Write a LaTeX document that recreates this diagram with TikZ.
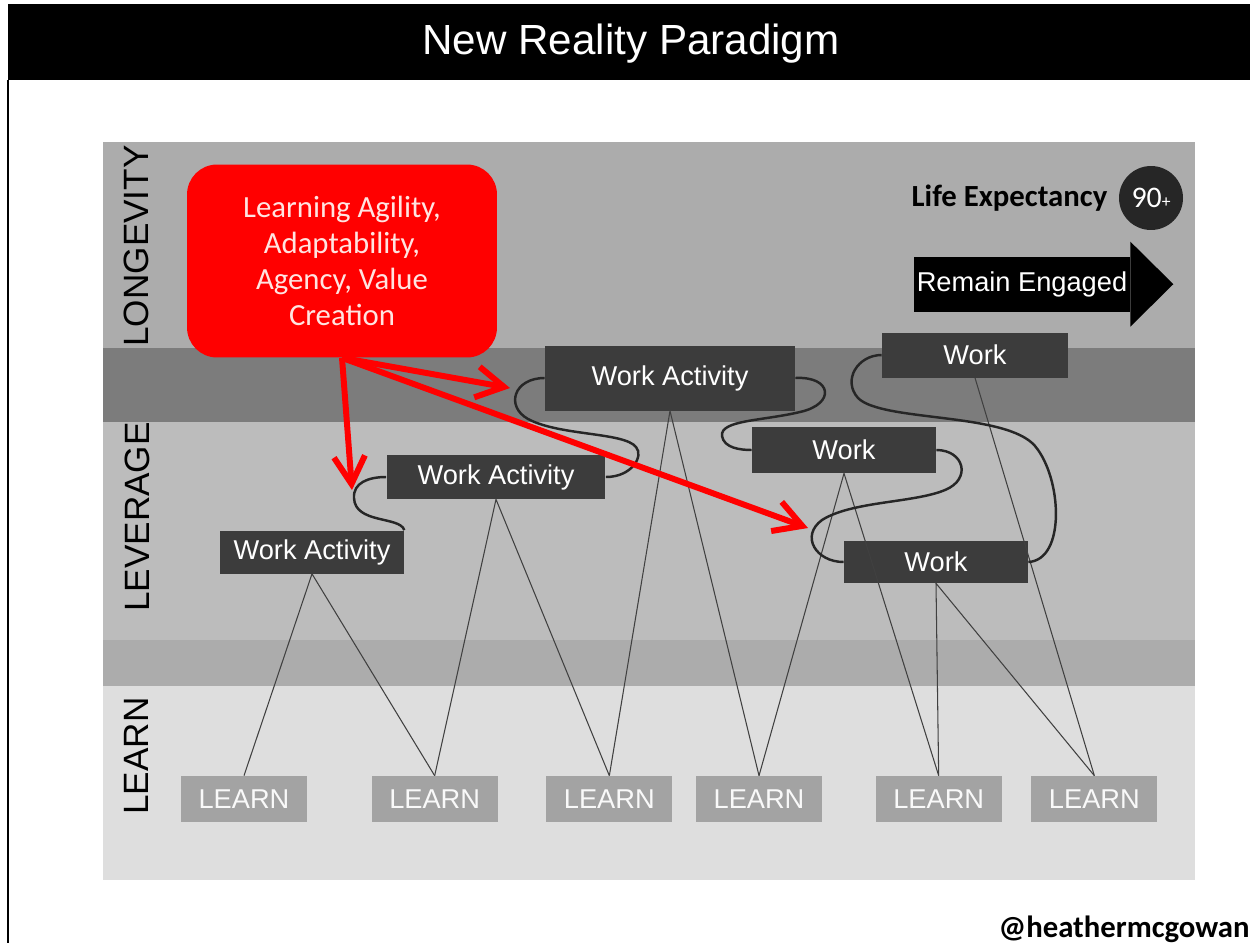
\documentclass[tikz,border=0pt]{standalone}
\usepackage{fontspec}
\setmainfont{Liberation Sans}
\newfontfamily\calibri{Carlito}
\usepackage{tikz}
\usetikzlibrary{arrows.meta,positioning}
\definecolor{nrred}{RGB}{255,0,0}
\definecolor{nrpink}{RGB}{255,228,225}
\definecolor{bandtop}{RGB}{172,172,172}
\definecolor{banddark}{RGB}{124,124,124}
\definecolor{bandmid}{RGB}{188,188,188}
\definecolor{bandlow}{RGB}{172,172,172}
\definecolor{bandlearn}{RGB}{222,222,222}
\definecolor{workfill}{RGB}{60,60,60}
\definecolor{learnfill}{RGB}{163,163,163}
\definecolor{agefill}{RGB}{38,38,38}

\begin{document}
\begin{tikzpicture}[
  x=0.02cm, y=-0.02cm,
  band/.style={rotate=90, inner sep=0pt, font=\fontsize{20}{24}\selectfont},
  work/.style={fill=workfill, text=white, inner sep=0pt, font=\fontsize{15.5}{18}\selectfont},
  learn/.style={fill=learnfill, text=white!95!gray, inner sep=0pt, minimum width=2.52cm, minimum height=0.92cm, font=\fontsize{15.5}{18}\selectfont},
  tie/.style={draw=black!75, line width=0.6pt},
  wire/.style={draw=black!85, line width=1.4pt},
  push/.style={draw=nrred, line width=3.4pt, -{Straight Barb[length=0.55cm, width=0.62cm]}}
]
\useasboundingbox (0,0) rectangle (1250,943);
\fill[white] (0,0) rectangle (1250,943);
\fill[black] (8,4) rectangle (1250,80);
\draw[line width=1.7pt] (8,80) -- (8,943);
\node[text=white, font=\fontsize{24}{28}\selectfont] (title) at (631,44) {New Reality Paradigm};

\fill[bandtop] (103,142) rectangle (1195,348);
\fill[banddark] (103,348) rectangle (1195,422);
\fill[bandmid] (103,422) rectangle (1195,640);
\fill[bandlow] (103,640) rectangle (1195,686);
\fill[bandlearn] (103,686) rectangle (1195,880);
\node[band] (longevity) at (136,246) {LONGEVITY};
\node[band] (leverage) at (137,517) {LEVERAGE};
\node[band] (learning) at (136,756) {LEARN};

\node[circle, fill=agefill, text=white, inner sep=0pt, minimum size=1.28cm, font=\calibri\fontsize{17}{20}\selectfont] (age) at (1151,198) {90{\fontsize{10}{12}\selectfont+}};
\node[left=0.22cm of age, inner sep=0pt, font=\calibri\bfseries\fontsize{17.5}{20}\selectfont] (life) {Life Expectancy};
\node[fill=black, text=white, inner sep=0pt, minimum width=4.32cm, minimum height=1.1cm, font=\fontsize{15.5}{18}\selectfont] (engaged) at (1022,284.5) {Remain Engaged};
\fill[black] (engaged.north east) ++(0,-15) -- ++(43,42.5) -- ++(-43,42.5) -- cycle;

\node[work, minimum width=3.68cm, minimum height=0.86cm] (wa1) at (312,552) {Work Activity};
\node[work, minimum width=4.38cm, minimum height=0.88cm] (wa2) at (496,477) {Work Activity};
\node[work, minimum width=5cm, minimum height=1.3cm] (wa3) at (670,378) {Work Activity};
\node[work, minimum width=3.68cm, minimum height=0.92cm] (w4) at (844,450) {Work};
\node[work, minimum width=3.68cm, minimum height=0.84cm] (w5) at (936,562) {Work};
\node[work, minimum width=3.72cm, minimum height=0.9cm] (w6) at (975,355) {Work};

\node[learn] (l1) at (244,799) {LEARN};
\node[learn, right=1.28cm of l1] (l2) {LEARN};
\node[learn, right=0.96cm of l2] (l3) {LEARN};
\node[learn, right=0.46cm of l3] (l4) {LEARN};
\node[learn, right=1.06cm of l4] (l5) {LEARN};
\node[learn, right=0.58cm of l5] (l6) {LEARN};

\draw[tie] (l1.north) -- (wa1.south) -- (l2.north);
\draw[tie] (l2.north) -- (wa2.south) -- (l3.north);
\draw[tie] (l3.north) -- (wa3.south) -- (l4.north);
\draw[tie] (l4.north) -- (w4.south) -- (l5.north);
\draw[tie] (l5.north) -- (w5.south) -- (l6.north);
\draw[tie] (w6.south) -- (l6.north);

\draw[wire] (wa1.north east) .. controls (400,516) and (355,524) .. (354,498)
  .. controls (353,483) and (368,477) .. (wa2.west);
\draw[wire] (wa2.east) .. controls (632,477) and (644,456) .. (636,447)
  .. controls (624,432) and (560,436) .. (528,419)
  .. controls (505,406) and (514,378) .. (wa3.west);
\draw[wire] (wa3.east) .. controls (832,376) and (836,404) .. (800,412)
  .. controls (762,421) and (720,420) .. (722,436)
  .. controls (724,448) and (740,450) .. (w4.west);
\draw[wire] (w4.east) .. controls (964,450) and (972,479) .. (945,490)
  .. controls (914,503) and (852,501) .. (822,520)
  .. controls (800,536) and (816,562) .. (w5.west);
\draw[wire] (w5.east) .. controls (1066,560) and (1062,478) .. (1035,446)
  .. controls (1006,412) and (882,422) .. (858,398)
  .. controls (842,380) and (858,355) .. (w6.west);

\node[fill=nrred, text=nrpink, rounded corners=0.6cm, align=center, minimum width=6.2cm, minimum height=3.86cm, font=\calibri\fontsize{17.5}{20.5}\selectfont] (traits) at (342,261) {Learning Agility,\\Adaptability,\\Agency, Value\\Creation};
\coordinate (aim1) at (352,490);
\coordinate (aim2) at (510,388);
\coordinate (aim3) at (808,528);
\draw[push] (traits.south) -- (aim1);
\draw[push] (traits.south) -- (aim2);
\draw[push] (traits.south) -- (aim3);

\node[anchor=base east, inner sep=0pt, font=\calibri\bfseries\fontsize{17.5}{20}\selectfont] (handle) at (1250,937) {@heathermcgowan};
\end{tikzpicture}
\end{document}
